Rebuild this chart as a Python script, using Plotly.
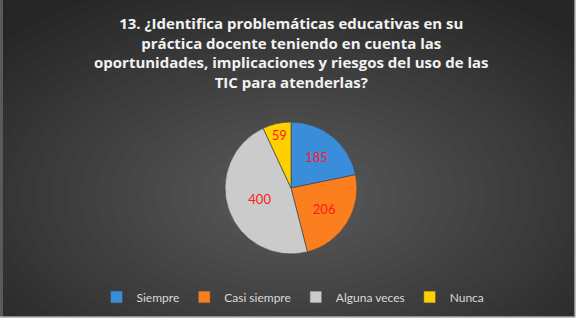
import plotly.graph_objects as go

categories = ["Siempre", "Casi siempre", "Alguna veces", "Nunca"]
values = [185, 206, 400, 59]
colors = ["#3a8ddb", "#fb7f1e", "#cbcbcb", "#ffd000"]
title_text = ("13. ¿Identifica problemáticas educativas en su<br>"
              "práctica docente teniendo en cuenta las<br>"
              "oportunidades, implicaciones y riesgos del uso de las<br>"
              "TIC para atenderlas?")

W, H = 582, 326

def px_x(x):
    return x / W

def px_y(y):
    return 1 - y / H

shapes = []
# base dark rectangle
shapes.append(dict(type="rect", xref="paper", yref="paper", x0=0, x1=1, y0=0, y1=1,
                   fillcolor="#262626", line=dict(width=0), layer="below"))
# radial gradient approximation
cx, cy, ax, ay = 291, 195, 300, 175
N = 30
dmax = 1.5
edge = (38, 38, 38)
center = (92, 92, 92)
for i in range(N):
    d = dmax * (1 - i / N)
    t = min(d / 1.35, 1.0)
    c = tuple(int(round(center[k] + (edge[k] - center[k]) * t)) for k in range(3))
    shapes.append(dict(type="circle", xref="paper", yref="paper",
                       x0=px_x(cx - ax * d), x1=px_x(cx + ax * d),
                       y0=px_y(cy + ay * d), y1=px_y(cy - ay * d),
                       fillcolor="rgb(%d,%d,%d)" % c, line=dict(width=0), layer="below"))
# white margins outside chart area
shapes.append(dict(type="rect", xref="paper", yref="paper", x0=px_x(575), x1=1.01, y0=-0.01, y1=1.01,
                   fillcolor="white", line=dict(width=0), layer="below"))
shapes.append(dict(type="rect", xref="paper", yref="paper", x0=-0.01, x1=1.01, y0=-0.01, y1=px_y(317),
                   fillcolor="white", line=dict(width=0), layer="below"))
shapes.append(dict(type="rect", xref="paper", yref="paper", x0=-0.01, x1=px_x(3), y0=px_y(317), y1=1.01,
                   fillcolor="#5a5a5a", line=dict(width=0), layer="below"))
# grey border lines
shapes.append(dict(type="line", xref="paper", yref="paper", x0=px_x(575), x1=px_x(575), y0=px_y(317), y1=1,
                   line=dict(color="#a8a8a8", width=1.5), layer="below"))
shapes.append(dict(type="line", xref="paper", yref="paper", x0=0, x1=px_x(575), y0=px_y(317), y1=px_y(317),
                   line=dict(color="#a8a8a8", width=1.5), layer="below"))

r = 66
pcx, pcy = 291, 188
fig = go.Figure(go.Pie(
    labels=categories, values=values, sort=False, direction="clockwise", rotation=0,
    marker=dict(colors=colors, line=dict(color="rgba(70,70,70,0.7)", width=1)),
    textinfo="value", textposition="inside", insidetextorientation="horizontal",
    textfont=dict(color="#ff1a1a", size=13, family="Lato"),
    domain=dict(x=[px_x(pcx - r), px_x(pcx + r)], y=[px_y(pcy + r), px_y(pcy - r)]),
    hoverinfo="label+value",
))

fig.update_layout(
    width=W, height=H, margin=dict(l=0, r=0, t=0, b=0),
    paper_bgcolor="white", shapes=shapes,
    annotations=[dict(text="<b>" + title_text + "</b>", xref="paper", yref="paper",
                      x=px_x(291), y=px_y(11), xanchor="center", yanchor="top", showarrow=False,
                      align="center", font=dict(family="Open Sans", size=15, color="#f2f2f2"))],
    legend=dict(orientation="h", x=px_x(293), xanchor="center", y=px_y(297), yanchor="middle",
                font=dict(family="Lato", size=12, color="#d9d9d9"), bgcolor="rgba(0,0,0,0)",
                itemclick=False),
)

fig.write_html("out.html")
